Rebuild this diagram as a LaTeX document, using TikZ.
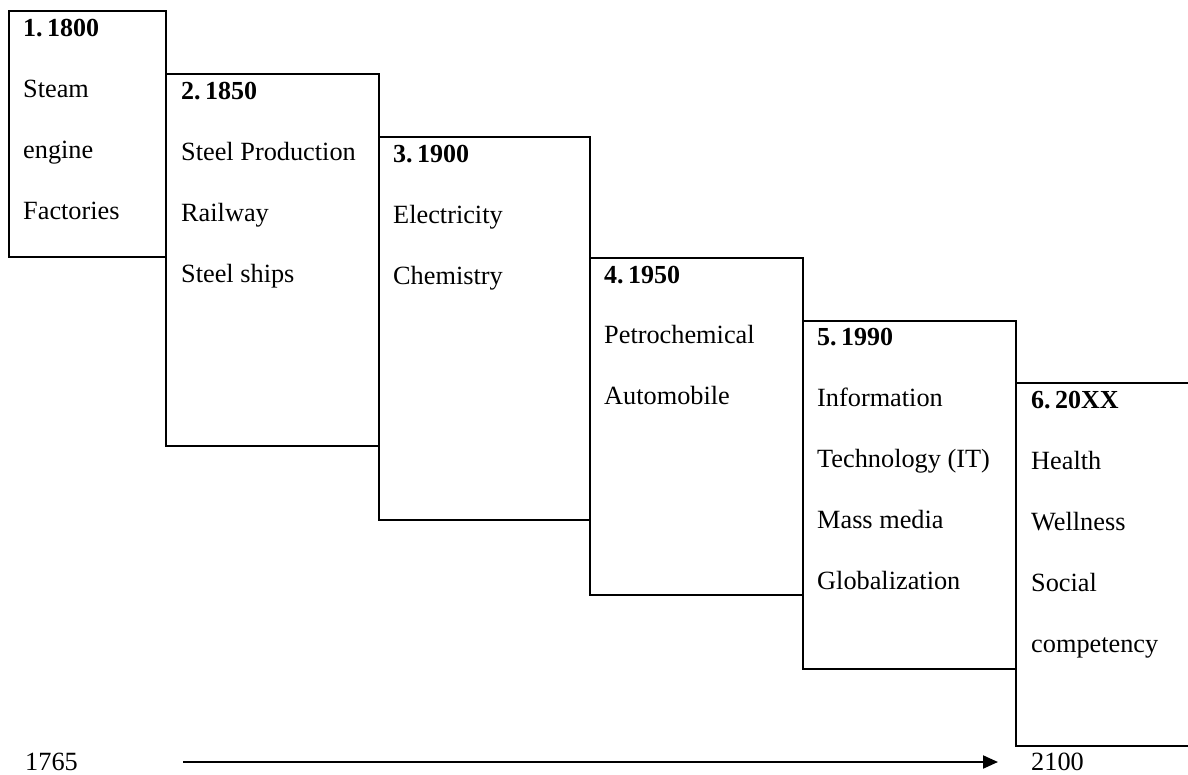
\documentclass[tikz,border=0pt]{standalone}
\usepackage{fontspec}
\setmainfont{Liberation Serif}
\usetikzlibrary{arrows.meta}
\tikzset{
  x=1pt, y=-1pt,
  box/.style={draw, line width=2pt, anchor=north west, inner sep=0pt, outer sep=0pt},
  hd/.style={anchor=base west, inner sep=0pt, font=\fontsize{26}{30}\selectfont\bfseries},
  it/.style={anchor=base west, inner sep=0pt, font=\fontsize{26.3}{30}\selectfont},
  axis/.style={line width=2pt, -{Triangle[length=15pt,width=13pt]}},
}
\begin{document}
\begin{tikzpicture}
\useasboundingbox (0,0) rectangle (1188,774);
% boxes
\node[box, minimum width=157pt, minimum height=246pt] (B1) at (9,11) {};
\node[box, minimum width=213pt, minimum height=372pt] (B2) at (166,74) {};
\node[box, minimum width=211pt, minimum height=383pt] (B3) at (379,137) {};
\node[box, minimum width=213pt, minimum height=337pt] (B4) at (590,258) {};
\node[box, minimum width=213pt, minimum height=348pt] (B5) at (803,321) {};
\coordinate (B6a) at (1188,383);
\coordinate (B6b) at (1016,383);
\coordinate (B6c) at (1016,746);
\coordinate (B6d) at (1188,746);
\draw[line width=2pt] (B6a) -- (B6b) -- (B6c) -- (B6d);
% texts
\node[hd] (h1) at (23,36) {1.\,1800};
\foreach \t [count=\i] in {Steam,engine,Factories}
  \node[it] (t1-\i) at (23,36+61.3*\i) {\t};
\node[hd] (h2) at (181,99) {2.\,1850};
\foreach \t [count=\i] in {Steel Production,Railway,Steel ships}
  \node[it] (t2-\i) at (181,99+61.3*\i) {\t};
\node[hd] (h3) at (393,162) {3.\,1900};
\foreach \t [count=\i] in {Electricity,Chemistry}
  \node[it] (t3-\i) at (393,162+61.3*\i) {\t};
\node[hd] (h4) at (604,283) {4.\,1950};
\foreach \t [count=\i] in {Petrochemical,Automobile}
  \node[it] (t4-\i) at (604,283+60.5*\i) {\t};
\node[hd] (h5) at (817,345) {5.\,1990};
\foreach \t [count=\i] in {Information,Technology (IT),Mass media,Globalization}
  \node[it] (t5-\i) at (817,345+61.2*\i) {\t};
\node[hd] (h6) at (1031,408) {6.\,20XX};
\foreach \t [count=\i] in {Health,Wellness,Social,competency}
  \node[it] (t6-\i) at (1031,408+61.2*\i) {\t};
% axis
\node[it] (y0) at (25,770) {1765};
\node[it] (y1) at (1031,770) {2100};
\coordinate (a0) at (183,762);
\coordinate (a1) at (998,762);
\draw[axis] (a0) -- (a1);
\end{tikzpicture}
\end{document}
